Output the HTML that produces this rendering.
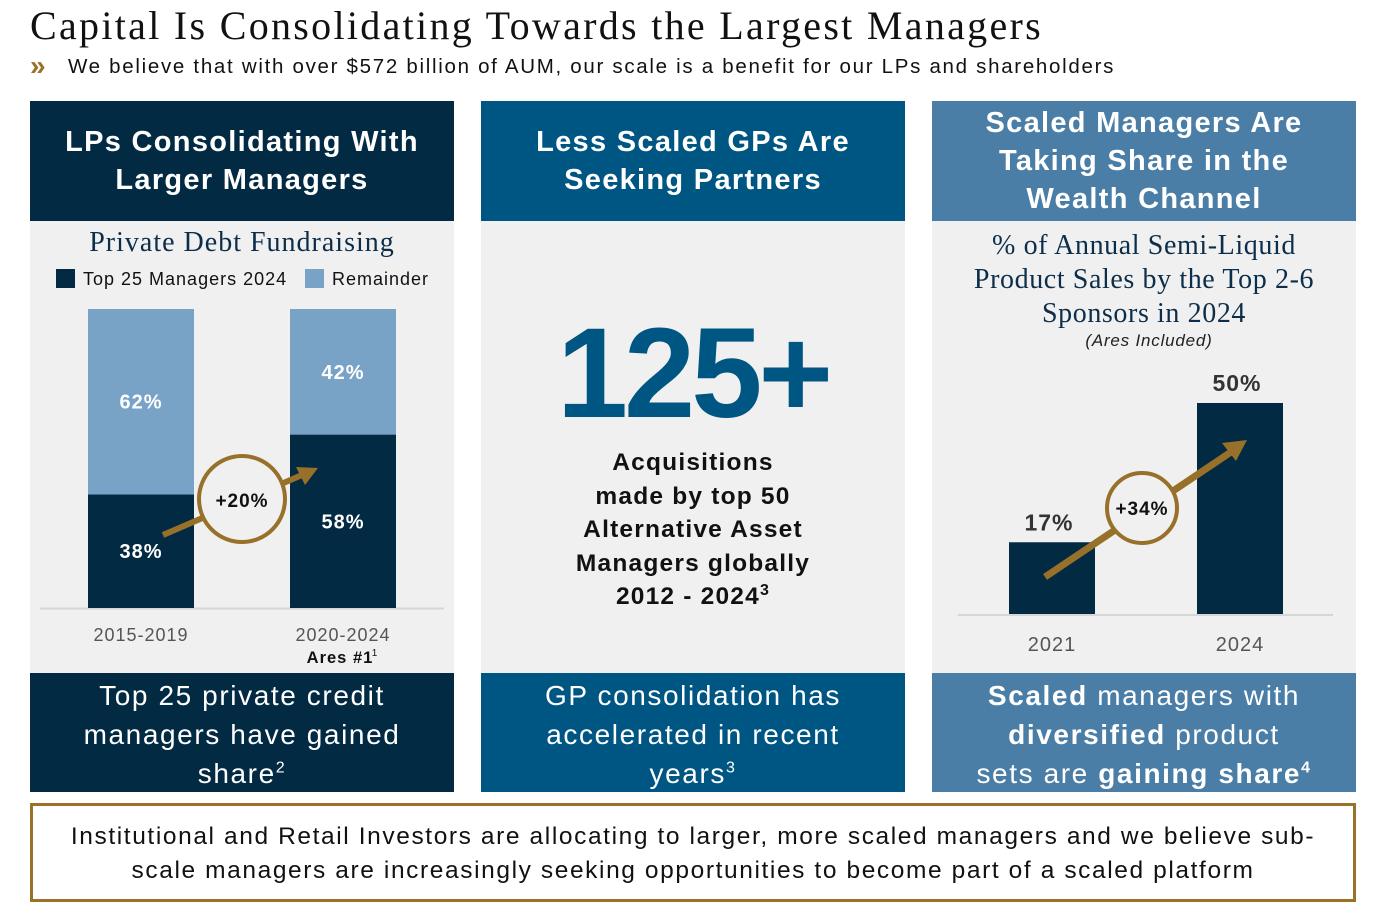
<!DOCTYPE html>
<html><head><meta charset="utf-8"><style>
*{margin:0;padding:0;box-sizing:border-box}
body{width:1382px;height:918px;background:#fff;position:relative;font-family:"Liberation Sans",sans-serif;overflow:hidden}
.a{position:absolute}
.hd{color:#fff;font-weight:bold;font-size:29px;text-align:center;display:flex;align-items:center;justify-content:center;line-height:38px;letter-spacing:1.3px}
.ft{color:#fff;font-size:28px;text-align:center;line-height:39px;letter-spacing:1.6px}
sup{line-height:0;font-size:16px}
.serif{font-family:"Liberation Serif",serif}
</style></head><body>
<div class="a serif" style="left:30px;top:2px;font-size:40px;color:#111;letter-spacing:2.3px">Capital Is Consolidating Towards the Largest Managers</div>
<div class="a" style="left:30px;top:51px;font-size:28px;color:#9a7127;line-height:30px;font-weight:bold">»</div>
<div class="a" style="left:68px;top:55px;font-size:20.5px;color:#111;letter-spacing:1.7px">We believe that with over $572 billion of AUM, our scale is a benefit for our LPs and shareholders</div>

<div class="a" style="left:30px;top:221px;width:424px;height:452px;background:#f0f0f0"></div>
<div class="a" style="left:481px;top:221px;width:424px;height:452px;background:#f0f0f0"></div>
<div class="a" style="left:932px;top:221px;width:424px;height:452px;background:#f0f0f0"></div>

<div class="a hd" style="left:30px;top:101px;width:424px;height:120px;background:#022a43">LPs Consolidating With<br>Larger Managers</div>
<div class="a hd" style="left:481px;top:101px;width:424px;height:120px;background:#005682">Less Scaled GPs Are<br>Seeking Partners</div>
<div class="a hd" style="left:932px;top:101px;width:424px;height:120px;background:#4a7ea6">Scaled Managers Are<br>Taking Share in the<br>Wealth Channel</div>

<div class="a ft" style="left:30px;top:673px;width:424px;height:119px;background:#022a43;padding-top:3px">Top 25 private credit<br>managers have gained<br>share<sup>2</sup></div>
<div class="a ft" style="left:481px;top:673px;width:424px;height:119px;background:#005682;padding-top:3px">GP consolidation has<br>accelerated in recent<br>years<sup>3</sup></div>
<div class="a ft" style="left:932px;top:673px;width:424px;height:119px;background:#4a7ea6;padding-top:3px"><b>Scaled</b> managers with<br><b>diversified</b> product<br>sets are <b>gaining share<sup>4</sup></b></div>

<div class="a serif" style="left:30px;top:227px;width:424px;text-align:center;font-size:28px;color:#0d2e4a;letter-spacing:1px">Private Debt Fundraising</div>
<div class="a" style="left:56px;top:269px;font-size:18px;color:#111;letter-spacing:1px"><span style="display:inline-block;width:19px;height:19px;background:#022a43;vertical-align:-3px;margin-right:8px"></span>Top 25 Managers 2024</div>
<div class="a" style="left:305px;top:269px;font-size:18px;color:#111;letter-spacing:1px"><span style="display:inline-block;width:19px;height:19px;background:#78a3c7;vertical-align:-3px;margin-right:8px"></span>Remainder</div>

<svg class="a" id="chartL" style="left:0;top:0" width="1382" height="918"></svg>

<div class="a" style="left:481px;top:300px;width:424px;text-align:center;font-size:128px;font-weight:bold;color:#005682;letter-spacing:-4px">125+</div>
<div class="a" style="left:481px;top:446px;width:424px;text-align:center;font-size:24.5px;font-weight:bold;color:#111;line-height:33.6px;letter-spacing:1.2px">Acquisitions<br>made by top 50<br>Alternative Asset<br>Managers globally<br>2012 - 2024<sup>3</sup></div>

<div class="a serif" style="left:932px;top:229px;width:424px;text-align:center;font-size:28px;color:#0d2e4a;line-height:34px;letter-spacing:0.6px">% of Annual Semi-Liquid<br>Product Sales by the Top 2-6<br>Sponsors in 2024</div>
<div class="a" style="left:932px;top:331px;width:434px;text-align:center;font-size:17px;font-style:italic;color:#222;letter-spacing:0.8px">(Ares Included)</div>

<div class="a" style="left:30px;top:803px;width:1326px;height:99px;border:3px solid #9a7127;text-align:center;font-size:24.5px;line-height:34px;padding-top:14px;color:#111;letter-spacing:1.6px">Institutional and Retail Investors are allocating to larger, more scaled managers and we believe sub-<br>scale managers are increasingly seeking opportunities to become part of a scaled platform</div>

<script>
const leftCats=["2015-2019","2020-2024"];
const leftTop25=[38,58];
const leftRemainder=[62,42];
const leftChange="+20%";
const rightCats=["2021","2024"];
const rightVals=[17,50];
const rightChange="+34%";
const NS="http://www.w3.org/2000/svg";
const svg=document.getElementById('chartL');
function mk(t,a,p){const e=document.createElementNS(NS,t);for(const k in a)e.setAttribute(k,a[k]);(p||svg).appendChild(e);return e;}
function txt(x,y,s,sz,fill,w){const e=mk('text',{x:x,y:y,'text-anchor':'middle','font-size':sz,fill:fill,'font-weight':w||'normal','font-family':'Liberation Sans, sans-serif','letter-spacing':'1'});e.textContent=s;return e;}
const lBase=608,lH=299;const ly=v=>lBase-v/100*lH;const lx=i=>88+i*202;
mk('line',{x1:40,x2:444,y1:lBase+0.5,y2:lBase+0.5,stroke:'#d6d6d6','stroke-width':2});
leftCats.forEach((c,i)=>{
 const b=mk('rect',{x:lx(i),y:ly(leftTop25[i]),width:106,height:lBase-ly(leftTop25[i]),fill:'#022a43'});
 
 
 const r=mk('rect',{x:lx(i),y:ly(leftTop25[i]+leftRemainder[i]),width:106,height:ly(leftTop25[i])-ly(leftTop25[i]+leftRemainder[i]),fill:'#78a3c7'});
 
 
 txt(lx(i)+53,(ly(leftTop25[i])+lBase)/2+7,leftTop25[i]+'%',20,'#fff','bold');
 txt(lx(i)+53,(ly(leftTop25[i])+ly(100))/2+7,leftRemainder[i]+'%',20,'#fff','bold');
 txt(lx(i)+53,641,c,18,'#555');
});
txt(340,663,'Ares #1',16.5,'#111','bold');txt(375,656,'1',10,'#111');
mk('line',{x1:163,y1:535,x2:302,y2:475,stroke:'#97702a','stroke-width':6});
mk('polygon',{points:'318,468 296,467 305,485',fill:'#97702a'});
mk('circle',{cx:242,cy:499,r:43,fill:'#f0f0f0',stroke:'#97702a','stroke-width':4});
txt(242,507,leftChange,19,'#111','bold');
const rBase=614,rScale=4.22;const ry=v=>rBase-v*rScale;const rx=i=>1009+i*188;
mk('line',{x1:958,x2:1333,y1:rBase+1,y2:rBase+1,stroke:'#d6d6d6','stroke-width':2});
rightCats.forEach((c,i)=>{
 const b=mk('rect',{x:rx(i),y:ry(rightVals[i]),width:86,height:rBase-ry(rightVals[i]),fill:'#022a43'});
 
 
 txt(rx(i)+40,ry(rightVals[i])-12,rightVals[i]+'%',23,'#333','bold');
 txt(rx(i)+43,651,c,20,'#555');
});
mk('line',{x1:1045,y1:577,x2:1234,y2:450,stroke:'#97702a','stroke-width':7});
mk('polygon',{points:'1247,440 1222,443 1236,461',fill:'#97702a'});
mk('circle',{cx:1142,cy:508,r:35,fill:'#f0f0f0',stroke:'#97702a','stroke-width':4});
txt(1142,515,rightChange,19,'#111','bold');
</script>
</body></html>
